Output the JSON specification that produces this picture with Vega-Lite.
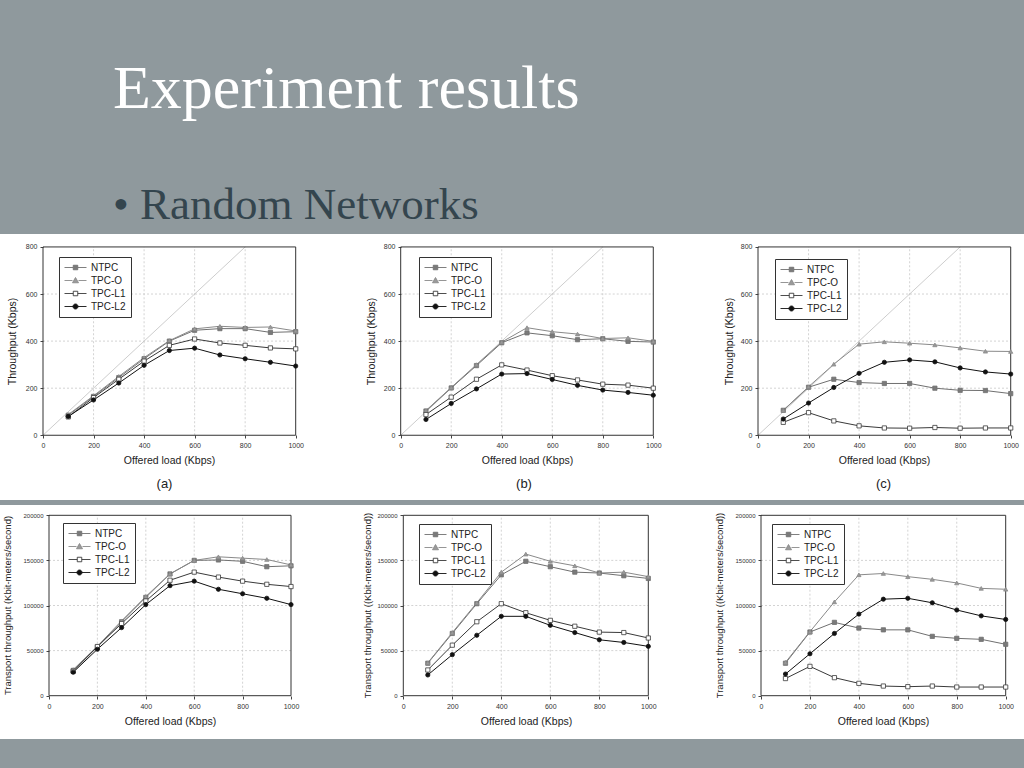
{
"$schema": "https://vega.github.io/schema/vega-lite/v6.json",
"background": "#8f999d",
"padding": {"left": 0, "right": 0, "top": 58, "bottom": 31},
"title": {"text": "Experiment results", "subtitle": "• Random Networks", "anchor": "start", "frame": "bounds", "dx": 113, "font": "Liberation Serif", "fontSize": 62, "fontWeight": "normal", "color": "#ffffff", "subtitleFont": "Liberation Serif", "subtitleFontSize": 45, "subtitleColor": "#34454e", "subtitlePadding": 62, "offset": 5},
"datasets": {
"d": [
{"p":"a","x":100,"NTPC":85,"TPC-O":88,"TPC-L1":78,"TPC-L2":80},
{"p":"a","x":200,"NTPC":165,"TPC-O":168,"TPC-L1":160,"TPC-L2":150},
{"p":"a","x":300,"NTPC":245,"TPC-O":250,"TPC-L1":238,"TPC-L2":222},
{"p":"a","x":400,"NTPC":325,"TPC-O":330,"TPC-L1":315,"TPC-L2":297},
{"p":"a","x":500,"NTPC":400,"TPC-O":402,"TPC-L1":382,"TPC-L2":360},
{"p":"a","x":600,"NTPC":446,"TPC-O":452,"TPC-L1":409,"TPC-L2":370},
{"p":"a","x":700,"NTPC":453,"TPC-O":463,"TPC-L1":392,"TPC-L2":341},
{"p":"a","x":800,"NTPC":453,"TPC-O":458,"TPC-L1":382,"TPC-L2":325},
{"p":"a","x":900,"NTPC":437,"TPC-O":460,"TPC-L1":371,"TPC-L2":310},
{"p":"a","x":1000,"NTPC":440,"TPC-O":443,"TPC-L1":367,"TPC-L2":294},
{"p":"b","x":100,"NTPC":103,"TPC-O":105,"TPC-L1":88,"TPC-L2":67},
{"p":"b","x":200,"NTPC":201,"TPC-O":203,"TPC-L1":162,"TPC-L2":135},
{"p":"b","x":300,"NTPC":296,"TPC-O":300,"TPC-L1":238,"TPC-L2":197},
{"p":"b","x":400,"NTPC":393,"TPC-O":396,"TPC-L1":299,"TPC-L2":260},
{"p":"b","x":500,"NTPC":435,"TPC-O":457,"TPC-L1":277,"TPC-L2":262},
{"p":"b","x":600,"NTPC":423,"TPC-O":440,"TPC-L1":253,"TPC-L2":237},
{"p":"b","x":700,"NTPC":406,"TPC-O":430,"TPC-L1":235,"TPC-L2":212},
{"p":"b","x":800,"NTPC":410,"TPC-O":411,"TPC-L1":217,"TPC-L2":192},
{"p":"b","x":900,"NTPC":399,"TPC-O":414,"TPC-L1":213,"TPC-L2":182},
{"p":"b","x":1000,"NTPC":396,"TPC-O":399,"TPC-L1":200,"TPC-L2":170},
{"p":"c","x":100,"NTPC":106,"TPC-O":106,"TPC-L1":55,"TPC-L2":69},
{"p":"c","x":200,"NTPC":204,"TPC-O":206,"TPC-L1":96,"TPC-L2":137},
{"p":"c","x":300,"NTPC":238,"TPC-O":302,"TPC-L1":61,"TPC-L2":203},
{"p":"c","x":400,"NTPC":224,"TPC-O":387,"TPC-L1":40,"TPC-L2":263},
{"p":"c","x":500,"NTPC":220,"TPC-O":397,"TPC-L1":31,"TPC-L2":310},
{"p":"c","x":600,"NTPC":220,"TPC-O":391,"TPC-L1":30,"TPC-L2":320},
{"p":"c","x":700,"NTPC":200,"TPC-O":384,"TPC-L1":33,"TPC-L2":312},
{"p":"c","x":800,"NTPC":191,"TPC-O":371,"TPC-L1":30,"TPC-L2":286},
{"p":"c","x":900,"NTPC":190,"TPC-O":357,"TPC-L1":31,"TPC-L2":269},
{"p":"c","x":1000,"NTPC":177,"TPC-O":356,"TPC-L1":31,"TPC-L2":260},
{"p":"d","x":100,"NTPC":28000,"TPC-O":29000,"TPC-L1":27000,"TPC-L2":26000},
{"p":"d","x":200,"NTPC":54000,"TPC-O":55000,"TPC-L1":54500,"TPC-L2":51500},
{"p":"d","x":300,"NTPC":82000,"TPC-O":83000,"TPC-L1":80000,"TPC-L2":75500},
{"p":"d","x":400,"NTPC":109000,"TPC-O":110000,"TPC-L1":105000,"TPC-L2":101000},
{"p":"d","x":500,"NTPC":135000,"TPC-O":135000,"TPC-L1":128000,"TPC-L2":122000},
{"p":"d","x":600,"NTPC":150000,"TPC-O":150000,"TPC-L1":137000,"TPC-L2":127000},
{"p":"d","x":700,"NTPC":150500,"TPC-O":154000,"TPC-L1":131500,"TPC-L2":118000},
{"p":"d","x":800,"NTPC":149000,"TPC-O":152500,"TPC-L1":127000,"TPC-L2":113000},
{"p":"d","x":900,"NTPC":143000,"TPC-O":151000,"TPC-L1":123500,"TPC-L2":108000},
{"p":"d","x":1000,"NTPC":144000,"TPC-O":145000,"TPC-L1":121000,"TPC-L2":101000},
{"p":"e","x":100,"NTPC":36000,"TPC-O":36500,"TPC-L1":28500,"TPC-L2":23000},
{"p":"e","x":200,"NTPC":69000,"TPC-O":70000,"TPC-L1":56000,"TPC-L2":45500},
{"p":"e","x":300,"NTPC":102000,"TPC-O":103000,"TPC-L1":82000,"TPC-L2":67000},
{"p":"e","x":400,"NTPC":134000,"TPC-O":137000,"TPC-L1":102000,"TPC-L2":88000},
{"p":"e","x":500,"NTPC":149000,"TPC-O":157000,"TPC-L1":92000,"TPC-L2":88000},
{"p":"e","x":600,"NTPC":143000,"TPC-O":149000,"TPC-L1":83500,"TPC-L2":78000},
{"p":"e","x":700,"NTPC":137000,"TPC-O":144000,"TPC-L1":77000,"TPC-L2":70000},
{"p":"e","x":800,"NTPC":136000,"TPC-O":136000,"TPC-L1":70500,"TPC-L2":62000},
{"p":"e","x":900,"NTPC":133000,"TPC-O":137000,"TPC-L1":70000,"TPC-L2":59000},
{"p":"e","x":1000,"NTPC":130000,"TPC-O":132000,"TPC-L1":64000,"TPC-L2":54700},
{"p":"f","x":100,"NTPC":36000,"TPC-O":37000,"TPC-L1":19000,"TPC-L2":24000},
{"p":"f","x":200,"NTPC":70600,"TPC-O":71000,"TPC-L1":32500,"TPC-L2":46500},
{"p":"f","x":300,"NTPC":81300,"TPC-O":104000,"TPC-L1":20000,"TPC-L2":69000},
{"p":"f","x":400,"NTPC":75000,"TPC-O":134000,"TPC-L1":13700,"TPC-L2":90500},
{"p":"f","x":500,"NTPC":73000,"TPC-O":135500,"TPC-L1":10700,"TPC-L2":107000},
{"p":"f","x":600,"NTPC":73000,"TPC-O":132000,"TPC-L1":10000,"TPC-L2":108000},
{"p":"f","x":700,"NTPC":65800,"TPC-O":129000,"TPC-L1":10700,"TPC-L2":103000},
{"p":"f","x":800,"NTPC":63600,"TPC-O":125000,"TPC-L1":9600,"TPC-L2":95000},
{"p":"f","x":900,"NTPC":62500,"TPC-O":119000,"TPC-L1":9600,"TPC-L2":88500},
{"p":"f","x":1000,"NTPC":57000,"TPC-O":118000,"TPC-L1":9600,"TPC-L2":84500}
],
"gx": [{"g":200},{"g":400},{"g":600},{"g":800}],
"gyt": [{"g":200},{"g":400},{"g":600}],
"gyb": [{"g":50000},{"g":100000},{"g":150000}],
"one": [{"o":1}]
},
"spacing": 5,
"resolve": {"scale": {"x":"independent","y":"independent","stroke":"independent","fill":"independent","shape":"independent"}},
"vconcat": [
{"hconcat": [
{"width": 341, "height": 266,
 "title": {"text": "(a)", "orient": "bottom", "offset": -22, "dx": -6},
 "layer": [
  {"data": {"name": "gx"}, "mark": {"type": "rule", "color": "#c8c8c8", "strokeWidth": 0.8, "strokeDash": [2,2]},
   "encoding": {
    "x": {"field": "g", "type": "quantitative", "scale": {"domain": [-170.2, 1179.3], "nice": false, "zero": false}, "axis": {"title": "Offered load (Kbps)", "values": [0,200,400,600,800,1000], "format": "d", "offset": -65, "titleX": 169, "titleY": 20}},
    "y": {"datum": 0, "type": "quantitative", "scale": {"domain": [-275, 855], "nice": false, "zero": false}, "axis": {"title": "Throughput (Kbps)", "values": [0,200,400,600,800], "offset": -43, "titleX": -26, "titleY": 107}},
    "y2": {"datum": 800}}},
  {"data": {"name": "gyt"}, "mark": {"type": "rule", "color": "#c8c8c8", "strokeWidth": 0.8, "strokeDash": [2,2]},
   "encoding": {"y": {"field": "g", "type": "quantitative"}, "x": {"datum": 0, "type": "quantitative"}, "x2": {"datum": 1000}}},
  {"data": {"name": "one"}, "mark": {"type": "rule", "color": "#c0c0c0", "strokeWidth": 0.8},
   "encoding": {"x": {"datum": 0, "type": "quantitative"}, "y": {"datum": 0, "type": "quantitative"}, "x2": {"datum": 800}, "y2": {"datum": 800}}},
  {"data": {"name": "one"}, "mark": {"type": "rect", "fillOpacity": 0, "stroke": "#333333", "strokeWidth": 1},
   "encoding": {"x": {"datum": 0, "type": "quantitative"}, "x2": {"datum": 1000}, "y": {"datum": 0, "type": "quantitative"}, "y2": {"datum": 800}}},
  {"data": {"name": "d"},
   "transform": [{"filter": "datum.p == 'a'"}, {"fold": ["NTPC","TPC-O","TPC-L1","TPC-L2"], "as": ["s","v"]}],
   "encoding": {"x": {"field": "x", "type": "quantitative"}, "y": {"field": "v", "type": "quantitative"}},
   "resolve": {"scale": {"stroke": "independent", "fill": "independent", "shape": "independent"}},
   "layer": [
    {"mark": {"type": "line", "strokeWidth": 1},
     "encoding": {"stroke": {"field": "s", "type": "nominal", "scale": {"domain": ["NTPC","TPC-O","TPC-L1","TPC-L2"], "range": ["#707070","#8a8a8a","#3a3a3a","#111111"]}, "legend": null}}},
    {"mark": {"type": "point", "size": 18, "opacity": 1, "strokeWidth": 0.8},
     "encoding": {
      "stroke": {"field": "s", "type": "nominal", "scale": {"domain": ["NTPC","TPC-O","TPC-L1","TPC-L2"], "range": ["#707070","#8a8a8a","#3a3a3a","#111111"]}, "legend": null},
      "fill": {"field": "s", "type": "nominal", "scale": {"domain": ["NTPC","TPC-O","TPC-L1","TPC-L2"], "range": ["#7a7a7a","#9a9a9a","#ffffff","#111111"]}, "legend": null},
      "shape": {"field": "s", "type": "nominal", "scale": {"domain": ["NTPC","TPC-O","TPC-L1","TPC-L2"], "range": ["square","triangle-up","square","circle"]}, "legend": null}}},
    {"mark": {"type": "point", "size": 100, "opacity": 0, "strokeWidth": 0.9},
     "encoding": {
      "stroke": {"field": "s", "type": "nominal", "scale": {"domain": ["NTPC","TPC-O","TPC-L1","TPC-L2"], "range": ["#707070","#8a8a8a","#3a3a3a","#111111"]}, "legend": {"title": null, "legendX": 59, "legendY": 23}},
      "fill": {"field": "s", "type": "nominal", "scale": {"domain": ["NTPC","TPC-O","TPC-L1","TPC-L2"], "range": ["#7a7a7a","#9a9a9a","#ffffff","#111111"]}, "legend": {"title": null, "legendX": 59, "legendY": 23}},
      "shape": {"field": "s", "type": "nominal", "scale": {"domain": ["NTPC","TPC-O","TPC-L1","TPC-L2"], "range": ["M-2.2,0H-0.45M0.45,0H2.2M-0.45,-0.45H0.45V0.45H-0.45Z","M-2.2,0H-0.6M0.6,0H2.2M0,-0.6L0.6,0.45L-0.6,0.45Z","M-2.2,0H-0.45M0.45,0H2.2M-0.45,-0.45H0.45V0.45H-0.45Z","M-2.2,0H-0.5M0.5,0H2.2M0.5,0A0.5,0.5,0,1,1,-0.5,0A0.5,0.5,0,1,1,0.5,0Z"]}, "legend": {"title": null, "legendX": 59, "legendY": 23}}}}
   ]}
 ]},
{"width": 342, "height": 266,
 "title": {"text": "(b)", "orient": "bottom", "offset": -22, "dx": 12},
 "layer": [
  {"data": {"name": "gx"}, "mark": {"type": "rule", "color": "#c8c8c8", "strokeWidth": 0.8, "strokeDash": [2,2]},
   "encoding": {
    "x": {"field": "g", "type": "quantitative", "scale": {"domain": [-236.3, 1117.6], "nice": false, "zero": false}, "axis": {"title": "Offered load (Kbps)", "values": [0,200,400,600,800,1000], "format": "d", "offset": -65, "titleX": 186, "titleY": 20}},
    "y": {"datum": 0, "type": "quantitative", "scale": {"domain": [-275, 855], "nice": false, "zero": false}, "axis": {"title": "Throughput (Kbps)", "values": [0,200,400,600,800], "offset": -60, "titleX": -25, "titleY": 107}},
    "y2": {"datum": 800}}},
  {"data": {"name": "gyt"}, "mark": {"type": "rule", "color": "#c8c8c8", "strokeWidth": 0.8, "strokeDash": [2,2]},
   "encoding": {"y": {"field": "g", "type": "quantitative"}, "x": {"datum": 0, "type": "quantitative"}, "x2": {"datum": 1000}}},
  {"data": {"name": "one"}, "mark": {"type": "rule", "color": "#c0c0c0", "strokeWidth": 0.8},
   "encoding": {"x": {"datum": 0, "type": "quantitative"}, "y": {"datum": 0, "type": "quantitative"}, "x2": {"datum": 800}, "y2": {"datum": 800}}},
  {"data": {"name": "one"}, "mark": {"type": "rect", "fillOpacity": 0, "stroke": "#333333", "strokeWidth": 1},
   "encoding": {"x": {"datum": 0, "type": "quantitative"}, "x2": {"datum": 1000}, "y": {"datum": 0, "type": "quantitative"}, "y2": {"datum": 800}}},
  {"data": {"name": "d"},
   "transform": [{"filter": "datum.p == 'b'"}, {"fold": ["NTPC","TPC-O","TPC-L1","TPC-L2"], "as": ["s","v"]}],
   "encoding": {"x": {"field": "x", "type": "quantitative"}, "y": {"field": "v", "type": "quantitative"}},
   "resolve": {"scale": {"stroke": "independent", "fill": "independent", "shape": "independent"}},
   "layer": [
    {"mark": {"type": "line", "strokeWidth": 1},
     "encoding": {"stroke": {"field": "s", "type": "nominal", "scale": {"domain": ["NTPC","TPC-O","TPC-L1","TPC-L2"], "range": ["#707070","#8a8a8a","#3a3a3a","#111111"]}, "legend": null}}},
    {"mark": {"type": "point", "size": 18, "opacity": 1, "strokeWidth": 0.8},
     "encoding": {
      "stroke": {"field": "s", "type": "nominal", "scale": {"domain": ["NTPC","TPC-O","TPC-L1","TPC-L2"], "range": ["#707070","#8a8a8a","#3a3a3a","#111111"]}, "legend": null},
      "fill": {"field": "s", "type": "nominal", "scale": {"domain": ["NTPC","TPC-O","TPC-L1","TPC-L2"], "range": ["#7a7a7a","#9a9a9a","#ffffff","#111111"]}, "legend": null},
      "shape": {"field": "s", "type": "nominal", "scale": {"domain": ["NTPC","TPC-O","TPC-L1","TPC-L2"], "range": ["square","triangle-up","square","circle"]}, "legend": null}}},
    {"mark": {"type": "point", "size": 100, "opacity": 0, "strokeWidth": 0.9},
     "encoding": {
      "stroke": {"field": "s", "type": "nominal", "scale": {"domain": ["NTPC","TPC-O","TPC-L1","TPC-L2"], "range": ["#707070","#8a8a8a","#3a3a3a","#111111"]}, "legend": {"title": null, "legendX": 78, "legendY": 23}},
      "fill": {"field": "s", "type": "nominal", "scale": {"domain": ["NTPC","TPC-O","TPC-L1","TPC-L2"], "range": ["#7a7a7a","#9a9a9a","#ffffff","#111111"]}, "legend": {"title": null, "legendX": 78, "legendY": 23}},
      "shape": {"field": "s", "type": "nominal", "scale": {"domain": ["NTPC","TPC-O","TPC-L1","TPC-L2"], "range": ["M-2.2,0H-0.45M0.45,0H2.2M-0.45,-0.45H0.45V0.45H-0.45Z","M-2.2,0H-0.6M0.6,0H2.2M0,-0.6L0.6,0.45L-0.6,0.45Z","M-2.2,0H-0.45M0.45,0H2.2M-0.45,-0.45H0.45V0.45H-0.45Z","M-2.2,0H-0.5M0.5,0H2.2M0.5,0A0.5,0.5,0,1,1,-0.5,0A0.5,0.5,0,1,1,0.5,0Z"]}, "legend": {"title": null, "legendX": 78, "legendY": 23}}}}
   ]}
 ]},
{"width": 341, "height": 266,
 "title": {"text": "(c)", "orient": "bottom", "offset": -22, "dx": 30},
 "layer": [
  {"data": {"name": "gx"}, "mark": {"type": "rule", "color": "#c8c8c8", "strokeWidth": 0.8, "strokeDash": [2,2]},
   "encoding": {
    "x": {"field": "g", "type": "quantitative", "scale": {"domain": [-296.8, 1052.6], "nice": false, "zero": false}, "axis": {"title": "Offered load (Kbps)", "values": [0,200,400,600,800,1000], "format": "d", "offset": -65, "titleX": 201, "titleY": 20}},
    "y": {"datum": 0, "type": "quantitative", "scale": {"domain": [-275, 855], "nice": false, "zero": false}, "axis": {"title": "Throughput (Kbps)", "values": [0,200,400,600,800], "offset": -75, "titleX": -24, "titleY": 107}},
    "y2": {"datum": 800}}},
  {"data": {"name": "gyt"}, "mark": {"type": "rule", "color": "#c8c8c8", "strokeWidth": 0.8, "strokeDash": [2,2]},
   "encoding": {"y": {"field": "g", "type": "quantitative"}, "x": {"datum": 0, "type": "quantitative"}, "x2": {"datum": 1000}}},
  {"data": {"name": "one"}, "mark": {"type": "rule", "color": "#c0c0c0", "strokeWidth": 0.8},
   "encoding": {"x": {"datum": 0, "type": "quantitative"}, "y": {"datum": 0, "type": "quantitative"}, "x2": {"datum": 800}, "y2": {"datum": 800}}},
  {"data": {"name": "one"}, "mark": {"type": "rect", "fillOpacity": 0, "stroke": "#333333", "strokeWidth": 1},
   "encoding": {"x": {"datum": 0, "type": "quantitative"}, "x2": {"datum": 1000}, "y": {"datum": 0, "type": "quantitative"}, "y2": {"datum": 800}}},
  {"data": {"name": "d"},
   "transform": [{"filter": "datum.p == 'c'"}, {"fold": ["NTPC","TPC-O","TPC-L1","TPC-L2"], "as": ["s","v"]}],
   "encoding": {"x": {"field": "x", "type": "quantitative"}, "y": {"field": "v", "type": "quantitative"}},
   "resolve": {"scale": {"stroke": "independent", "fill": "independent", "shape": "independent"}},
   "layer": [
    {"mark": {"type": "line", "strokeWidth": 1},
     "encoding": {"stroke": {"field": "s", "type": "nominal", "scale": {"domain": ["NTPC","TPC-O","TPC-L1","TPC-L2"], "range": ["#707070","#8a8a8a","#3a3a3a","#111111"]}, "legend": null}}},
    {"mark": {"type": "point", "size": 18, "opacity": 1, "strokeWidth": 0.8},
     "encoding": {
      "stroke": {"field": "s", "type": "nominal", "scale": {"domain": ["NTPC","TPC-O","TPC-L1","TPC-L2"], "range": ["#707070","#8a8a8a","#3a3a3a","#111111"]}, "legend": null},
      "fill": {"field": "s", "type": "nominal", "scale": {"domain": ["NTPC","TPC-O","TPC-L1","TPC-L2"], "range": ["#7a7a7a","#9a9a9a","#ffffff","#111111"]}, "legend": null},
      "shape": {"field": "s", "type": "nominal", "scale": {"domain": ["NTPC","TPC-O","TPC-L1","TPC-L2"], "range": ["square","triangle-up","square","circle"]}, "legend": null}}},
    {"mark": {"type": "point", "size": 100, "opacity": 0, "strokeWidth": 0.9},
     "encoding": {
      "stroke": {"field": "s", "type": "nominal", "scale": {"domain": ["NTPC","TPC-O","TPC-L1","TPC-L2"], "range": ["#707070","#8a8a8a","#3a3a3a","#111111"]}, "legend": {"title": null, "legendX": 92, "legendY": 25}},
      "fill": {"field": "s", "type": "nominal", "scale": {"domain": ["NTPC","TPC-O","TPC-L1","TPC-L2"], "range": ["#7a7a7a","#9a9a9a","#ffffff","#111111"]}, "legend": {"title": null, "legendX": 92, "legendY": 25}},
      "shape": {"field": "s", "type": "nominal", "scale": {"domain": ["NTPC","TPC-O","TPC-L1","TPC-L2"], "range": ["M-2.2,0H-0.45M0.45,0H2.2M-0.45,-0.45H0.45V0.45H-0.45Z","M-2.2,0H-0.6M0.6,0H2.2M0,-0.6L0.6,0.45L-0.6,0.45Z","M-2.2,0H-0.45M0.45,0H2.2M-0.45,-0.45H0.45V0.45H-0.45Z","M-2.2,0H-0.5M0.5,0H2.2M0.5,0A0.5,0.5,0,1,1,-0.5,0A0.5,0.5,0,1,1,0.5,0Z"]}, "legend": {"title": null, "legendX": 92, "legendY": 25}}}}
   ]}
 ]}
], "spacing": 0, "resolve": {"scale": {"x":"independent","y":"independent","stroke":"independent","fill":"independent","shape":"independent"}}},
{"hconcat": [
{"width": 341, "height": 234,
 "layer": [
  {"data": {"name": "gx"}, "mark": {"type": "rule", "color": "#c8c8c8", "strokeWidth": 0.8, "strokeDash": [2,2]},
   "encoding": {
    "x": {"field": "g", "type": "quantitative", "scale": {"domain": [-202.5, 1206.6], "nice": false, "zero": false}, "axis": {"title": "Offered load (Kbps)", "values": [0,200,400,600,800,1000], "format": "d", "offset": -43, "titleX": 170, "titleY": 20}},
    "y": {"datum": 0, "type": "quantitative", "scale": {"domain": [-48004, 211419], "nice": false, "zero": false}, "axis": {"title": "Transport throughput (Kbit-meters/second)", "values": [0,50000,100000,150000,200000], "format": "d", "labelFontSize": 6, "titleFontSize": 9.5, "offset": -49, "titleX": -37, "titleY": 100}},
    "y2": {"datum": 200000}}},
  {"data": {"name": "gyb"}, "mark": {"type": "rule", "color": "#c8c8c8", "strokeWidth": 0.8, "strokeDash": [2,2]},
   "encoding": {"y": {"field": "g", "type": "quantitative"}, "x": {"datum": 0, "type": "quantitative"}, "x2": {"datum": 1000}}},
  {"data": {"name": "one"}, "mark": {"type": "rect", "fillOpacity": 0, "stroke": "#333333", "strokeWidth": 1},
   "encoding": {"x": {"datum": 0, "type": "quantitative"}, "x2": {"datum": 1000}, "y": {"datum": 0, "type": "quantitative"}, "y2": {"datum": 200000}}},
  {"data": {"name": "d"},
   "transform": [{"filter": "datum.p == 'd'"}, {"fold": ["NTPC","TPC-O","TPC-L1","TPC-L2"], "as": ["s","v"]}],
   "encoding": {"x": {"field": "x", "type": "quantitative"}, "y": {"field": "v", "type": "quantitative"}},
   "resolve": {"scale": {"stroke": "independent", "fill": "independent", "shape": "independent"}},
   "layer": [
    {"mark": {"type": "line", "strokeWidth": 1},
     "encoding": {"stroke": {"field": "s", "type": "nominal", "scale": {"domain": ["NTPC","TPC-O","TPC-L1","TPC-L2"], "range": ["#707070","#8a8a8a","#3a3a3a","#111111"]}, "legend": null}}},
    {"mark": {"type": "point", "size": 18, "opacity": 1, "strokeWidth": 0.8},
     "encoding": {
      "stroke": {"field": "s", "type": "nominal", "scale": {"domain": ["NTPC","TPC-O","TPC-L1","TPC-L2"], "range": ["#707070","#8a8a8a","#3a3a3a","#111111"]}, "legend": null},
      "fill": {"field": "s", "type": "nominal", "scale": {"domain": ["NTPC","TPC-O","TPC-L1","TPC-L2"], "range": ["#7a7a7a","#9a9a9a","#ffffff","#111111"]}, "legend": null},
      "shape": {"field": "s", "type": "nominal", "scale": {"domain": ["NTPC","TPC-O","TPC-L1","TPC-L2"], "range": ["square","triangle-up","square","circle"]}, "legend": null}}},
    {"mark": {"type": "point", "size": 100, "opacity": 0, "strokeWidth": 0.9},
     "encoding": {
      "stroke": {"field": "s", "type": "nominal", "scale": {"domain": ["NTPC","TPC-O","TPC-L1","TPC-L2"], "range": ["#707070","#8a8a8a","#3a3a3a","#111111"]}, "legend": {"title": null, "legendX": 63, "legendY": 18}},
      "fill": {"field": "s", "type": "nominal", "scale": {"domain": ["NTPC","TPC-O","TPC-L1","TPC-L2"], "range": ["#7a7a7a","#9a9a9a","#ffffff","#111111"]}, "legend": {"title": null, "legendX": 63, "legendY": 18}},
      "shape": {"field": "s", "type": "nominal", "scale": {"domain": ["NTPC","TPC-O","TPC-L1","TPC-L2"], "range": ["M-2.2,0H-0.45M0.45,0H2.2M-0.45,-0.45H0.45V0.45H-0.45Z","M-2.2,0H-0.6M0.6,0H2.2M0,-0.6L0.6,0.45L-0.6,0.45Z","M-2.2,0H-0.45M0.45,0H2.2M-0.45,-0.45H0.45V0.45H-0.45Z","M-2.2,0H-0.5M0.5,0H2.2M0.5,0A0.5,0.5,0,1,1,-0.5,0A0.5,0.5,0,1,1,0.5,0Z"]}, "legend": {"title": null, "legendX": 63, "legendY": 18}}}}
   ]}
 ]},
{"width": 342, "height": 234,
 "layer": [
  {"data": {"name": "gx"}, "mark": {"type": "rule", "color": "#c8c8c8", "strokeWidth": 0.8, "strokeDash": [2,2]},
   "encoding": {
    "x": {"field": "g", "type": "quantitative", "scale": {"domain": [-254.3, 1141.6], "nice": false, "zero": false}, "axis": {"title": "Offered load (Kbps)", "values": [0,200,400,600,800,1000], "format": "d", "offset": -43, "titleX": 185, "titleY": 20}},
    "y": {"datum": 0, "type": "quantitative", "scale": {"domain": [-48004, 211419], "nice": false, "zero": false}, "axis": {"title": "Transport throughput ((Kbit-meters/second))", "values": [0,50000,100000,150000,200000], "format": "d", "labelFontSize": 6, "titleFontSize": 9.5, "offset": -62, "titleX": -31, "titleY": 100}},
    "y2": {"datum": 200000}}},
  {"data": {"name": "gyb"}, "mark": {"type": "rule", "color": "#c8c8c8", "strokeWidth": 0.8, "strokeDash": [2,2]},
   "encoding": {"y": {"field": "g", "type": "quantitative"}, "x": {"datum": 0, "type": "quantitative"}, "x2": {"datum": 1000}}},
  {"data": {"name": "one"}, "mark": {"type": "rect", "fillOpacity": 0, "stroke": "#333333", "strokeWidth": 1},
   "encoding": {"x": {"datum": 0, "type": "quantitative"}, "x2": {"datum": 1000}, "y": {"datum": 0, "type": "quantitative"}, "y2": {"datum": 200000}}},
  {"data": {"name": "d"},
   "transform": [{"filter": "datum.p == 'e'"}, {"fold": ["NTPC","TPC-O","TPC-L1","TPC-L2"], "as": ["s","v"]}],
   "encoding": {"x": {"field": "x", "type": "quantitative"}, "y": {"field": "v", "type": "quantitative"}},
   "resolve": {"scale": {"stroke": "independent", "fill": "independent", "shape": "independent"}},
   "layer": [
    {"mark": {"type": "line", "strokeWidth": 1},
     "encoding": {"stroke": {"field": "s", "type": "nominal", "scale": {"domain": ["NTPC","TPC-O","TPC-L1","TPC-L2"], "range": ["#707070","#8a8a8a","#3a3a3a","#111111"]}, "legend": null}}},
    {"mark": {"type": "point", "size": 18, "opacity": 1, "strokeWidth": 0.8},
     "encoding": {
      "stroke": {"field": "s", "type": "nominal", "scale": {"domain": ["NTPC","TPC-O","TPC-L1","TPC-L2"], "range": ["#707070","#8a8a8a","#3a3a3a","#111111"]}, "legend": null},
      "fill": {"field": "s", "type": "nominal", "scale": {"domain": ["NTPC","TPC-O","TPC-L1","TPC-L2"], "range": ["#7a7a7a","#9a9a9a","#ffffff","#111111"]}, "legend": null},
      "shape": {"field": "s", "type": "nominal", "scale": {"domain": ["NTPC","TPC-O","TPC-L1","TPC-L2"], "range": ["square","triangle-up","square","circle"]}, "legend": null}}},
    {"mark": {"type": "point", "size": 100, "opacity": 0, "strokeWidth": 0.9},
     "encoding": {
      "stroke": {"field": "s", "type": "nominal", "scale": {"domain": ["NTPC","TPC-O","TPC-L1","TPC-L2"], "range": ["#707070","#8a8a8a","#3a3a3a","#111111"]}, "legend": {"title": null, "legendX": 78, "legendY": 19}},
      "fill": {"field": "s", "type": "nominal", "scale": {"domain": ["NTPC","TPC-O","TPC-L1","TPC-L2"], "range": ["#7a7a7a","#9a9a9a","#ffffff","#111111"]}, "legend": {"title": null, "legendX": 78, "legendY": 19}},
      "shape": {"field": "s", "type": "nominal", "scale": {"domain": ["NTPC","TPC-O","TPC-L1","TPC-L2"], "range": ["M-2.2,0H-0.45M0.45,0H2.2M-0.45,-0.45H0.45V0.45H-0.45Z","M-2.2,0H-0.6M0.6,0H2.2M0,-0.6L0.6,0.45L-0.6,0.45Z","M-2.2,0H-0.45M0.45,0H2.2M-0.45,-0.45H0.45V0.45H-0.45Z","M-2.2,0H-0.5M0.5,0H2.2M0.5,0A0.5,0.5,0,1,1,-0.5,0A0.5,0.5,0,1,1,0.5,0Z"]}, "legend": {"title": null, "legendX": 78, "legendY": 19}}}}
   ]}
 ]},
{"width": 341, "height": 234,
 "layer": [
  {"data": {"name": "gx"}, "mark": {"type": "rule", "color": "#c8c8c8", "strokeWidth": 0.8, "strokeDash": [2,2]},
   "encoding": {
    "x": {"field": "g", "type": "quantitative", "scale": {"domain": [-318.8, 1074.8], "nice": false, "zero": false}, "axis": {"title": "Offered load (Kbps)", "values": [0,200,400,600,800,1000], "format": "d", "offset": -43, "titleX": 200, "titleY": 20}},
    "y": {"datum": 0, "type": "quantitative", "scale": {"domain": [-48004, 211419], "nice": false, "zero": false}, "axis": {"title": "Transport throughput ((Kbit-meters/second))", "values": [0,50000,100000,150000,200000], "format": "d", "labelFontSize": 6, "titleFontSize": 9.5, "offset": -78, "titleX": -37, "titleY": 100}},
    "y2": {"datum": 200000}}},
  {"data": {"name": "gyb"}, "mark": {"type": "rule", "color": "#c8c8c8", "strokeWidth": 0.8, "strokeDash": [2,2]},
   "encoding": {"y": {"field": "g", "type": "quantitative"}, "x": {"datum": 0, "type": "quantitative"}, "x2": {"datum": 1000}}},
  {"data": {"name": "one"}, "mark": {"type": "rect", "fillOpacity": 0, "stroke": "#333333", "strokeWidth": 1},
   "encoding": {"x": {"datum": 0, "type": "quantitative"}, "x2": {"datum": 1000}, "y": {"datum": 0, "type": "quantitative"}, "y2": {"datum": 200000}}},
  {"data": {"name": "d"},
   "transform": [{"filter": "datum.p == 'f'"}, {"fold": ["NTPC","TPC-O","TPC-L1","TPC-L2"], "as": ["s","v"]}],
   "encoding": {"x": {"field": "x", "type": "quantitative"}, "y": {"field": "v", "type": "quantitative"}},
   "resolve": {"scale": {"stroke": "independent", "fill": "independent", "shape": "independent"}},
   "layer": [
    {"mark": {"type": "line", "strokeWidth": 1},
     "encoding": {"stroke": {"field": "s", "type": "nominal", "scale": {"domain": ["NTPC","TPC-O","TPC-L1","TPC-L2"], "range": ["#707070","#8a8a8a","#3a3a3a","#111111"]}, "legend": null}}},
    {"mark": {"type": "point", "size": 18, "opacity": 1, "strokeWidth": 0.8},
     "encoding": {
      "stroke": {"field": "s", "type": "nominal", "scale": {"domain": ["NTPC","TPC-O","TPC-L1","TPC-L2"], "range": ["#707070","#8a8a8a","#3a3a3a","#111111"]}, "legend": null},
      "fill": {"field": "s", "type": "nominal", "scale": {"domain": ["NTPC","TPC-O","TPC-L1","TPC-L2"], "range": ["#7a7a7a","#9a9a9a","#ffffff","#111111"]}, "legend": null},
      "shape": {"field": "s", "type": "nominal", "scale": {"domain": ["NTPC","TPC-O","TPC-L1","TPC-L2"], "range": ["square","triangle-up","square","circle"]}, "legend": null}}},
    {"mark": {"type": "point", "size": 100, "opacity": 0, "strokeWidth": 0.9},
     "encoding": {
      "stroke": {"field": "s", "type": "nominal", "scale": {"domain": ["NTPC","TPC-O","TPC-L1","TPC-L2"], "range": ["#707070","#8a8a8a","#3a3a3a","#111111"]}, "legend": {"title": null, "legendX": 89, "legendY": 19}},
      "fill": {"field": "s", "type": "nominal", "scale": {"domain": ["NTPC","TPC-O","TPC-L1","TPC-L2"], "range": ["#7a7a7a","#9a9a9a","#ffffff","#111111"]}, "legend": {"title": null, "legendX": 89, "legendY": 19}},
      "shape": {"field": "s", "type": "nominal", "scale": {"domain": ["NTPC","TPC-O","TPC-L1","TPC-L2"], "range": ["M-2.2,0H-0.45M0.45,0H2.2M-0.45,-0.45H0.45V0.45H-0.45Z","M-2.2,0H-0.6M0.6,0H2.2M0,-0.6L0.6,0.45L-0.6,0.45Z","M-2.2,0H-0.45M0.45,0H2.2M-0.45,-0.45H0.45V0.45H-0.45Z","M-2.2,0H-0.5M0.5,0H2.2M0.5,0A0.5,0.5,0,1,1,-0.5,0A0.5,0.5,0,1,1,0.5,0Z"]}, "legend": {"title": null, "legendX": 89, "legendY": 19}}}}
   ]}
 ]}
], "spacing": 0, "resolve": {"scale": {"x":"independent","y":"independent","stroke":"independent","fill":"independent","shape":"independent"}}}
],
"config": {
 "view": {"stroke": null, "fill": "#ffffff"},
 "font": "Liberation Sans",
 "title": {"font": "Liberation Sans", "fontSize": 13, "fontWeight": "normal", "color": "#222222"},
 "axis": {"domain": false, "grid": false, "labelFont": "Liberation Sans", "labelFontSize": 7, "labelColor": "#333333", "titleFont": "Liberation Sans", "titleFontSize": 10.5, "titleFontWeight": "normal", "titleColor": "#222222", "tickColor": "#444444", "tickSize": 3, "labelPadding": 3},
 "legend": {"orient": "none", "padding": 5, "rowPadding": 2, "labelFont": "Liberation Sans", "labelFontSize": 10, "labelColor": "#222222", "strokeColor": "#333333", "fillColor": "#ffffff", "symbolSize": 100, "symbolOpacity": 1, "symbolStrokeWidth": 0.9, "symbolOffset": 6, "labelOffset": 10}
}
}
